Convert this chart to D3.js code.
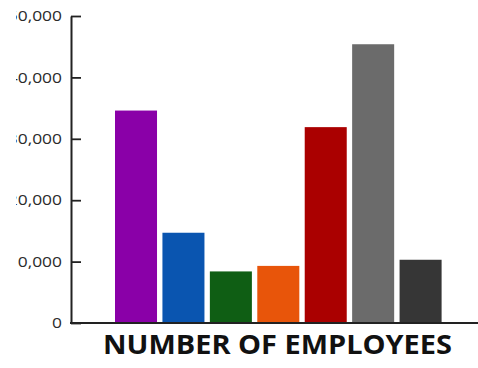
<!DOCTYPE html>
<html>
<head>
<meta charset="utf-8">
<script src="https://cdn.jsdelivr.net/npm/d3@7"></script>
<style>
  html, body { margin: 0; padding: 0; background: #fff; }
  svg { display: block; }
</style>
</head>
<body>
<script>
const categories = ["A", "B", "C", "D", "E", "F", "G"];
const values = [34600, 14700, 8400, 9300, 31900, 45400, 10300];
const colors = ["#8a00a8", "#0a55b0", "#0f5e14", "#e8550a", "#aa0000", "#6b6b6b", "#363636"];
const tickValues = [0, 10000, 20000, 30000, 40000, 50000];
const title = "NUMBER OF EMPLOYEES";

const W = 478, H = 368;
const svg = d3.select("body").append("svg").attr("width", W).attr("height", H);

const x0 = 71, yTop = 16, yBase = 323;
const y = d3.scaleLinear().domain([0, 50000]).range([yBase, yTop]);
const x = d3.scaleBand().domain(categories).range([112.3, 444.3]).paddingInner(0.114).paddingOuter(0.057);

// bars
svg.append("g").selectAll("rect").data(categories).join("rect")
  .attr("x", d => x(d))
  .attr("width", x.bandwidth())
  .attr("y", (d, i) => y(values[i]))
  .attr("height", (d, i) => yBase - y(values[i]))
  .attr("fill", (d, i) => colors[i]);

// clip for cropped labels
svg.append("defs").append("clipPath").attr("id", "lblclip")
  .append("rect").attr("x", 16 - x0).attr("y", -20).attr("width", 600).attr("height", 400);

const sx = 1.2, pad = 9;
const yAxis = svg.append("g")
  .attr("transform", `translate(${x0},0)`)
  .attr("clip-path", "url(#lblclip)")
  .call(d3.axisLeft(y).tickValues(tickValues).tickFormat(d3.format(",")).tickSizeInner(-10).tickSizeOuter(0).tickPadding(pad));
yAxis.select(".domain").attr("stroke", "#222").attr("stroke-width", 2);
yAxis.selectAll(".tick line").attr("stroke", "#222").attr("stroke-width", 1.8);
yAxis.selectAll(".tick text")
  .attr("x", -pad / sx)
  .attr("transform", `scale(${sx},1)`)
  .attr("fill", "#2a2a2a")
  .style("font-family", "'Open Sans', 'DejaVu Sans', sans-serif")
  .style("font-size", "14.5px");

// x axis line
const xLine = d3.scaleLinear().domain([0, 1]).range([x0 - 1, W]);
svg.append("line")
  .attr("x1", xLine(0)).attr("x2", xLine(1))
  .attr("y1", yBase).attr("y2", yBase)
  .attr("stroke", "#222").attr("stroke-width", 2);

// title
svg.append("text")
  .attr("x", 277.5).attr("y", 354)
  .attr("text-anchor", "middle")
  .attr("textLength", 349).attr("lengthAdjust", "spacingAndGlyphs")
  .style("font-family", "'Open Sans', 'DejaVu Sans', sans-serif")
  .style("font-weight", "bold")
  .style("font-size", "27px")
  .attr("fill", "#111")
  .text(title);
</script>
</body>
</html>
